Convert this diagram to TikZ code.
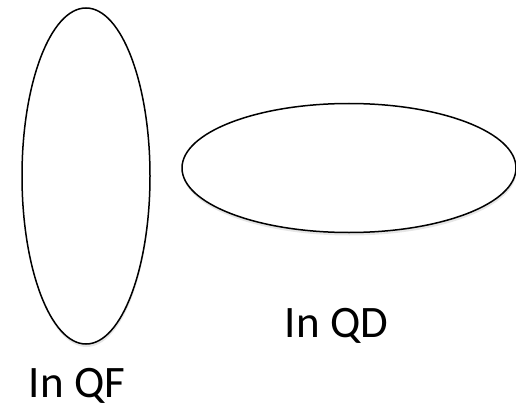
\documentclass[tikz,border=0pt]{standalone}
\usepackage{fontspec}
\setmainfont{Carlito}
\usetikzlibrary{shapes.geometric,shadows}
\begin{document}
\begin{tikzpicture}[x=1pt,y=1pt,
  blob/.style={ellipse,draw=black,line width=1.5pt,fill=white,inner sep=0pt,
    drop shadow={opacity=0.2,shadow xshift=0.5pt,shadow yshift=-3pt}},
  lbl/.style={font=\fontsize{45}{50}\selectfont,anchor=base,inner sep=0pt}]
\useasboundingbox (0,0) rectangle (516,405);
\node[blob,minimum width=128pt,minimum height=336pt] (qf) at (86,229) {};
\node[blob,minimum width=334pt,minimum height=129pt] (qd) at (349,237) {};
\node[lbl] (lqf) at (77,7.5) {In QF};
\node[lbl] (lqd) at (336.5,68) {In QD};
\end{tikzpicture}
\end{document}
